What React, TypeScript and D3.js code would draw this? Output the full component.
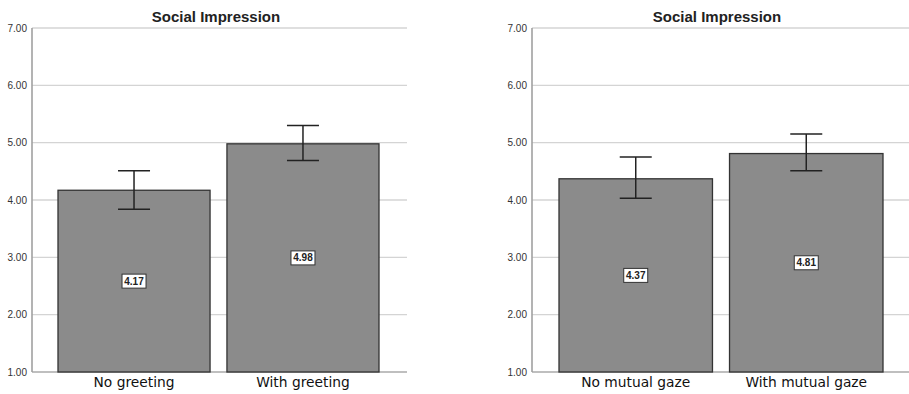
import React from "react";
import * as d3 from "d3";

const TITLE = "Social Impression";
const TICKS = [1, 2, 3, 4, 5, 6, 7];

const leftCategories = ["No greeting", "With greeting"];
const leftMeans = [4.17, 4.98];
const leftLower = [3.84, 4.69];
const leftUpper = [4.51, 5.3];

const rightCategories = ["No mutual gaze", "With mutual gaze"];
const rightMeans = [4.37, 4.81];
const rightLower = [4.03, 4.51];
const rightUpper = [4.75, 5.15];

type PanelProps = {
  x0: number;
  x1: number;
  titleX: number;
  barStart: number;
  barEnd: number;
  categories: string[];
  means: number[];
  lower: number[];
  upper: number[];
};

const Panel = ({ x0, x1, titleX, barStart, barEnd, categories, means, lower, upper }: PanelProps) => {
  const y = d3.scaleLinear().domain([1, 7]).range([372, 28]);
  const x = d3.scaleBand<string>().domain(categories).range([barStart, barEnd]).paddingInner(0.1).paddingOuter(0);
  const capW = 32;
  const font = "'Liberation Sans', Arial, sans-serif";
  return (
    <g>
      <text x={titleX} y={22} textAnchor="middle" fontFamily={font} fontWeight="bold" fontSize={15} fill="#222">
        {TITLE}
      </text>
      {TICKS.map((t) => (
        <g key={t}>
          <line x1={x0} x2={x1} y1={y(t)} y2={y(t)} stroke={t === 1 ? "#aaa" : "#d4d4d4"} strokeWidth={1.3} />
          <text x={x0 - 5} y={y(t) + 3.5} textAnchor="end" fontFamily={font} fontSize={10} fill="#333">
            {t.toFixed(2)}
          </text>
        </g>
      ))}
      <line x1={x0} x2={x0} y1={y(7)} y2={y(1)} stroke="#a0a0a0" strokeWidth={1.6} />
      {categories.map((c, i) => {
        const bx = x(c)!;
        const bw = x.bandwidth();
        const cx = bx + bw / 2;
        const mid = (means[i] + 1) / 2;
        const lbl = means[i].toFixed(2);
        return (
          <g key={c}>
            <rect x={bx} y={y(means[i])} width={bw} height={y(1) - y(means[i])} fill="#8b8b8b" stroke="#333" strokeWidth={1.3} />
            <line x1={cx} x2={cx} y1={y(upper[i])} y2={y(lower[i])} stroke="#222" strokeWidth={1.5} />
            <line x1={cx - capW / 2} x2={cx + capW / 2} y1={y(upper[i])} y2={y(upper[i])} stroke="#222" strokeWidth={1.5} />
            <line x1={cx - capW / 2} x2={cx + capW / 2} y1={y(lower[i])} y2={y(lower[i])} stroke="#222" strokeWidth={1.5} />
            <rect x={cx - 12} y={y(mid) - 7} width={24} height={14} fill="#fff" stroke="#333" strokeWidth={1} />
            <text x={cx} y={y(mid) + 3.5} textAnchor="middle" fontFamily={font} fontSize={10} fontWeight="bold" fill="#222">
              {lbl}
            </text>
            <text x={cx} y={387} textAnchor="middle" fontFamily="'DejaVu Sans', sans-serif" fontSize={13.8} fill="#111">
              {c}
            </text>
          </g>
        );
      })}
    </g>
  );
};

export default function App() {
  return (
    <svg width={909} height={394} style={{ position: "absolute", left: 0, top: 0, background: "#fff" }}>
      <Panel x0={32} x1={407} titleX={216} barStart={58} barEnd={379} categories={leftCategories} means={leftMeans} lower={leftLower} upper={leftUpper} />
      <Panel x0={532} x1={909} titleX={717} barStart={559} barEnd={883} categories={rightCategories} means={rightMeans} lower={rightLower} upper={rightUpper} />
    </svg>
  );
}
